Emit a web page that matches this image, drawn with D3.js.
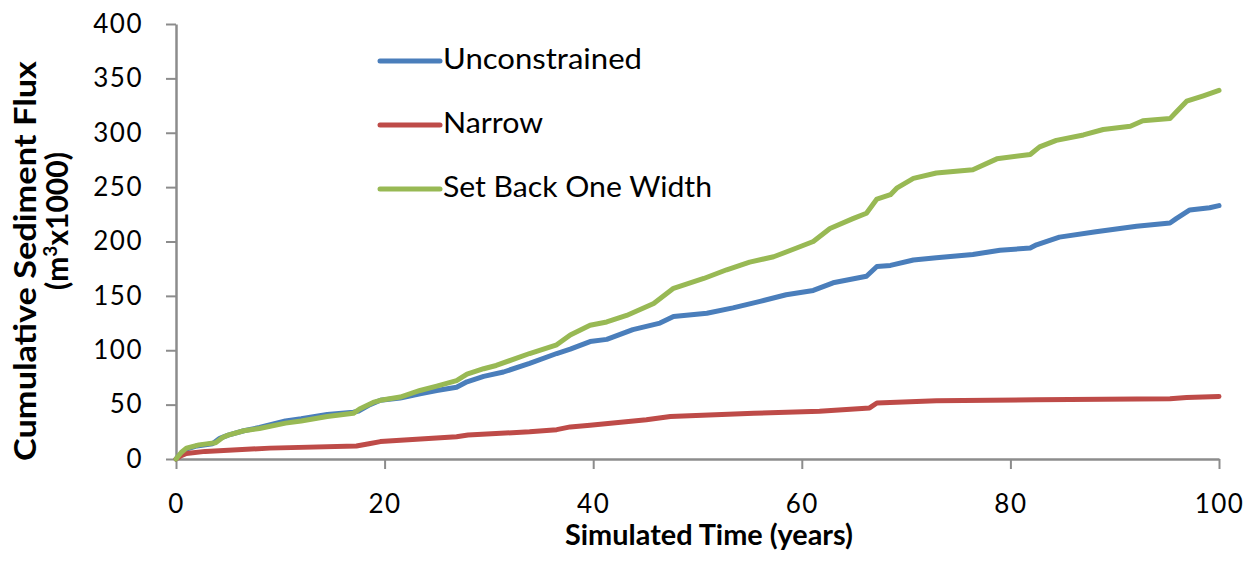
<!DOCTYPE html>
<html>
<head>
<meta charset="utf-8">
<title>Cumulative Sediment Flux</title>
<script src="https://cdn.jsdelivr.net/npm/d3@7"></script>
<style>
  body { margin: 0; background: #fff; }
  text { font-family: Lato, "Open Sans", sans-serif; fill: #000; }
</style>
</head>
<body>
<div id="chart"></div>
<script>
// Series (time in years, flux in m3 x 1000)
const seriesNames = ["Unconstrained", "Narrow", "Set Back One Width"];
const seriesColors = ["#4a7ebb", "#be4b48", "#98b954"];
const legendWidths = [199, 100, 269];

const unconstrainedTime = [0, 0.5, 1, 2, 3.5, 4.2, 5, 6.5, 8, 10.5, 12, 14.5, 17, 17.5, 18.6, 19.6, 21.5, 23.4, 25, 26.9, 27.9, 29.5, 31.4, 33.9, 36.5, 37.8, 39.7, 41.3, 43.8, 46.4, 47.7, 50.9, 53.4, 56, 58.5, 61.1, 63, 66.2, 67.2, 68.5, 70.7, 72.9, 76.4, 79, 81.9, 82.5, 84.7, 88.2, 92.1, 95.3, 95.9, 97.2, 99.1, 100];
const unconstrainedFlux = [0, 5, 9, 12, 14, 19, 22, 26, 29, 35, 37, 41, 43, 44, 50, 54, 56, 60, 63, 66, 71, 76, 80, 88, 97, 101, 108, 110, 119, 125, 131, 134, 139, 145, 151, 155, 162, 168, 177, 178, 183, 185, 188, 192, 194, 197, 204, 209, 214, 217, 221, 229, 231, 233];

const narrowTime = [0, 0.5, 1, 2.8, 9, 17.3, 18.5, 19.6, 26.9, 28, 33.9, 36.5, 37.8, 39.7, 45.1, 47.4, 55.4, 61.7, 66.5, 67.2, 72.9, 82.5, 95.3, 96.9, 100];
const narrowFlux = [0, 3, 5, 7, 10, 12, 14, 16, 20.5, 22, 25, 27, 29.5, 31, 36, 39, 42, 44, 47, 51.5, 53.5, 54.5, 55.5, 56.5, 57.5];

const setBackTime = [0, 0.5, 1, 2.2, 3.8, 4.5, 5, 6.5, 8, 10.5, 12, 14.5, 17, 17.6, 18.9, 19.6, 21.5, 23.4, 25, 26.9, 27.9, 29.5, 30.7, 33.9, 36.5, 37.8, 39.7, 41.3, 43.2, 45.8, 47.7, 50.6, 52.8, 55, 57.3, 59.5, 61.1, 62.7, 64.9, 66.2, 67.2, 68.5, 69.1, 70.7, 72.9, 76.4, 78.7, 81.9, 82.8, 84.4, 87, 88.9, 91.5, 92.7, 95.3, 95.9, 96.9, 98.5, 100];
const setBackFlux = [0, 6, 10, 13, 15, 20, 22, 26, 28, 33, 35, 39, 42, 46, 52, 54, 57, 63, 67, 72, 78, 83, 86, 97, 105, 114, 123, 126, 132, 143, 157, 166, 174, 181, 186, 194, 200, 212, 221, 226, 239, 243, 249, 258, 263, 266, 276, 280, 287, 293, 298, 303, 306, 311, 313, 319, 329, 334, 339];

const xTicks = [0, 20, 40, 60, 80, 100];
const yTicks = [0, 50, 100, 150, 200, 250, 300, 350, 400];

const width = 1259;
const height = 575;
const margin = { top: 24, right: 40, bottom: 116, left: 176 };

// Pair up times and values for each series
const seriesData = [
  d3.zip(unconstrainedTime, unconstrainedFlux),
  d3.zip(narrowTime, narrowFlux),
  d3.zip(setBackTime, setBackFlux)
];

const svg = d3.select("#chart")
  .append("svg")
  .attr("width", width)
  .attr("height", height);

const x = d3.scaleLinear()
  .domain([0, 100])
  .range([margin.left, width - margin.right]);

const y = d3.scaleLinear()
  .domain([0, 400])
  .range([height - margin.bottom, margin.top]);

// Axes
const xAxis = svg.append("g")
  .attr("transform", "translate(0," + (height - margin.bottom) + ")")
  .call(d3.axisBottom(x).tickValues(xTicks).tickSize(10).tickPadding(26).tickSizeOuter(0));

const yAxis = svg.append("g")
  .attr("transform", "translate(" + margin.left + ",0)")
  .call(d3.axisLeft(y).tickValues(yTicks).tickSize(10).tickPadding(23).tickSizeOuter(0));

[xAxis, yAxis].forEach(function (g) {
  g.select(".domain").attr("stroke", "#8c8c8c").attr("stroke-width", 2.5);
  g.selectAll(".tick line").attr("stroke", "#8c8c8c").attr("stroke-width", 2);
  g.selectAll(".tick text")
    .style("font-family", "Lato, sans-serif")
    .style("font-size", "26px")
    .style("letter-spacing", "1.5px")
    .attr("fill", "#000");
});

// Lines
const line = d3.line()
  .x(d => x(d[0]))
  .y(d => y(d[1]));

svg.selectAll(".series")
  .data(seriesData)
  .enter()
  .append("path")
  .attr("class", "series")
  .attr("d", line)
  .attr("fill", "none")
  .attr("stroke", (d, i) => seriesColors[i])
  .attr("stroke-width", 5)
  .attr("stroke-linejoin", "round")
  .attr("stroke-linecap", "round");

// Legend
const legend = svg.selectAll(".legend")
  .data(seriesNames)
  .enter()
  .append("g")
  .attr("class", "legend")
  .attr("transform", (d, i) => "translate(380," + (61 + 64 * i) + ")");

legend.append("line")
  .attr("x1", 0)
  .attr("x2", 60)
  .attr("stroke", (d, i) => seriesColors[i])
  .attr("stroke-width", 5)
  .attr("stroke-linecap", "round");

legend.append("text")
  .attr("x", 63)
  .attr("y", 8)
  .attr("textLength", (d, i) => legendWidths[i])
  .attr("lengthAdjust", "spacingAndGlyphs")
  .style("font-size", "28px")
  .text(d => d);

// Axis titles
svg.append("text")
  .attr("x", 709)
  .attr("y", 545)
  .attr("text-anchor", "middle")
  .attr("textLength", 288)
  .attr("lengthAdjust", "spacingAndGlyphs")
  .style("font-size", "28px")
  .style("font-weight", "bold")
  .text("Simulated Time (years)");

svg.append("text")
  .attr("transform", "translate(36,261) rotate(-90)")
  .attr("text-anchor", "middle")
  .attr("textLength", 400)
  .attr("lengthAdjust", "spacingAndGlyphs")
  .style("font-size", "30px")
  .style("font-weight", "bold")
  .text("Cumulative Sediment Flux");

const unitTitle = svg.append("text")
  .attr("transform", "translate(68,221) rotate(-90)")
  .attr("text-anchor", "middle")
  .style("font-size", "30px")
  .style("font-weight", "bold");
unitTitle.append("tspan").text("(m");
unitTitle.append("tspan").attr("dy", -11).style("font-size", "19px").text("3");
unitTitle.append("tspan").attr("dy", 11).text("x1000)");
</script>
</body>
</html>
